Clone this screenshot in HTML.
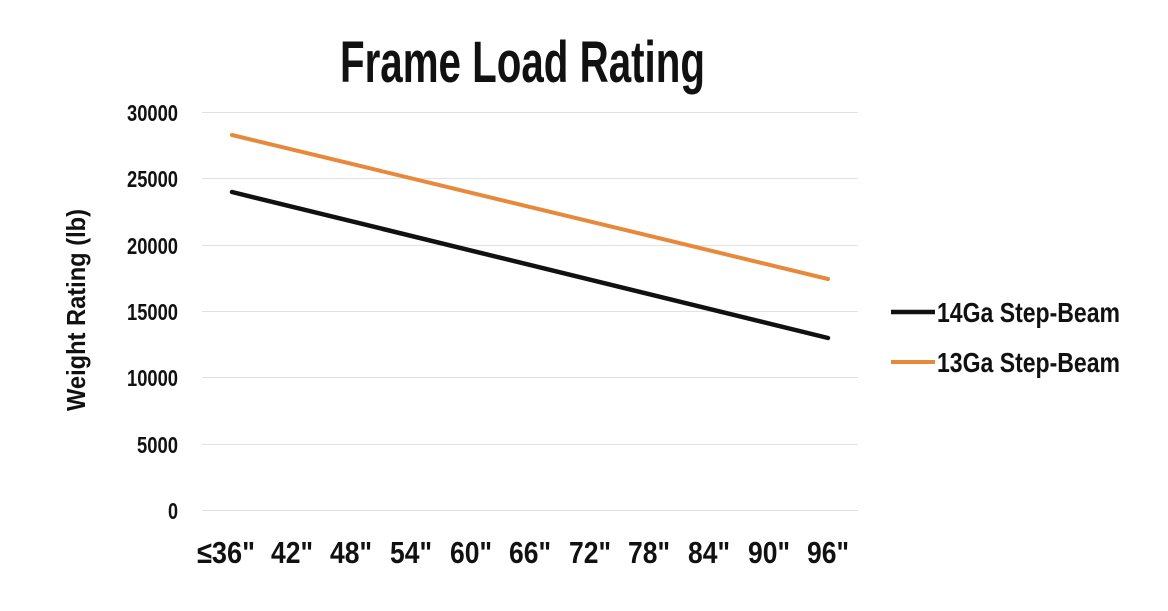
<!DOCTYPE html>
<html><head><style>
body{margin:0;background:#fff;}
svg text{font-family:"Liberation Sans Narrow","Liberation Sans",sans-serif;font-weight:bold;fill:#111;}
</style></head><body>
<svg width="1168" height="606" xmlns="http://www.w3.org/2000/svg">
<rect width="1168" height="606" fill="#fff"/>
<text x="340" y="82" font-size="58" textLength="365" lengthAdjust="spacingAndGlyphs">Frame Load Rating</text>
<g stroke="#e2e2e2" stroke-width="1">
<line x1="202" x2="858" y1="112.5" y2="112.5"/>
<line x1="202" x2="858" y1="178.5" y2="178.5"/>
<line x1="202" x2="858" y1="245.5" y2="245.5"/>
<line x1="202" x2="858" y1="311.5" y2="311.5"/>
<line x1="202" x2="858" y1="377.5" y2="377.5"/>
<line x1="202" x2="858" y1="444.5" y2="444.5"/>
<line x1="202" x2="858" y1="510.5" y2="510.5"/>
</g>
<g font-size="23" lengthAdjust="spacingAndGlyphs">
<text x="127" y="121" textLength="51" lengthAdjust="spacingAndGlyphs">30000</text>
<text x="127" y="187" textLength="51" lengthAdjust="spacingAndGlyphs">25000</text>
<text x="127" y="254" textLength="51" lengthAdjust="spacingAndGlyphs">20000</text>
<text x="127" y="320" textLength="51" lengthAdjust="spacingAndGlyphs">15000</text>
<text x="127" y="386" textLength="51" lengthAdjust="spacingAndGlyphs">10000</text>
<text x="137" y="453" textLength="41" lengthAdjust="spacingAndGlyphs">5000</text>
<text x="168" y="519" textLength="10" lengthAdjust="spacingAndGlyphs">0</text>
</g>
<text font-size="26" text-anchor="middle" transform="translate(85,310) rotate(-90)" textLength="202" lengthAdjust="spacingAndGlyphs">Weight Rating (lb)</text>
<line x1="232" y1="135" x2="828" y2="279" stroke="#e8883a" stroke-width="4" stroke-linecap="round"/>
<line x1="232" y1="192" x2="828" y2="338" stroke="#111" stroke-width="4.5" stroke-linecap="round"/>
<g font-size="31" text-anchor="middle">
<text x="226" y="563" textLength="58" lengthAdjust="spacingAndGlyphs">≤36"</text>
<text x="292" y="563" textLength="42" lengthAdjust="spacingAndGlyphs">42"</text>
<text x="351" y="563" textLength="42" lengthAdjust="spacingAndGlyphs">48"</text>
<text x="411" y="563" textLength="42" lengthAdjust="spacingAndGlyphs">54"</text>
<text x="471" y="563" textLength="42" lengthAdjust="spacingAndGlyphs">60"</text>
<text x="530" y="563" textLength="42" lengthAdjust="spacingAndGlyphs">66"</text>
<text x="590" y="563" textLength="42" lengthAdjust="spacingAndGlyphs">72"</text>
<text x="649" y="563" textLength="42" lengthAdjust="spacingAndGlyphs">78"</text>
<text x="709" y="563" textLength="42" lengthAdjust="spacingAndGlyphs">84"</text>
<text x="769" y="563" textLength="42" lengthAdjust="spacingAndGlyphs">90"</text>
<text x="828" y="563" textLength="42" lengthAdjust="spacingAndGlyphs">96"</text>
</g>
<line x1="891" y1="312" x2="935" y2="312" stroke="#111" stroke-width="4.5"/>
<line x1="891" y1="362" x2="935" y2="362" stroke="#e8883a" stroke-width="4"/>
<g font-size="28">
<text x="937" y="322" textLength="183" lengthAdjust="spacingAndGlyphs">14Ga Step-Beam</text>
<text x="937" y="372" textLength="183" lengthAdjust="spacingAndGlyphs">13Ga Step-Beam</text>
</g>
</svg>
</body></html>
